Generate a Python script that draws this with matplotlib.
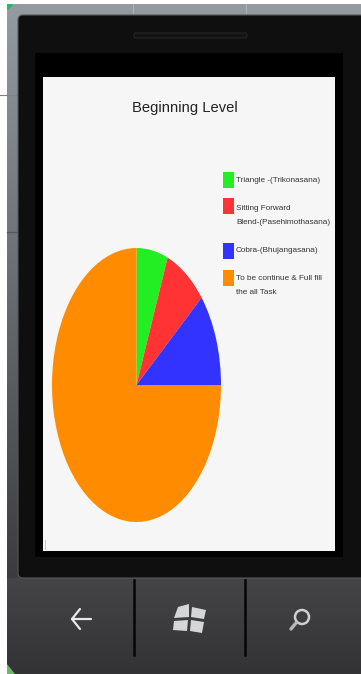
"""Yoga progress pie chart shown on a phone screen."""

import numpy as np
import matplotlib
matplotlib.use("Agg")
import matplotlib.pyplot as plt
from matplotlib.colors import to_rgb
from matplotlib.patches import FancyBboxPatch, Polygon, Circle, Rectangle

WIDTH = 361
HEIGHT = 674

TITLE = "Beginning Level"
LABELS = [
    "Triangle -(Trikonasana)",
    "Sitting Forward\nBlend-(Pasehimothasana)",
    "Cobra-(Bhujangasana)",
    "To be continue & Full fill\nthe all Task",
]
VALUES = [6, 8, 11, 75]
COLORS = ["#22ee22", "#ff3333", "#3333ff", "#ff8c00"]
BOX_Y = [179.5, 206, 250.5, 278]
TEXT_Y = [180, 215.5, 251, 285.5]

plt.rcParams["font.family"] = ["Liberation Sans", "DejaVu Sans"]

fig = plt.figure(figsize=(WIDTH / 100, HEIGHT / 100), dpi=100, facecolor="white")

# full-figure axes working in pixels, y pointing down
bg = fig.add_axes([0, 0, 1, 1])
bg.set_xlim(0, WIDTH)
bg.set_ylim(HEIGHT, 0)
bg.axis("off")


def vertical_gradient(ax, x0, x1, y0, y1, top, bottom, clip=None, z=1):
    grad = np.linspace(0, 1, 256).reshape(-1, 1, 1)
    rgb = (1 - grad) * np.array(to_rgb(top)) + grad * np.array(to_rgb(bottom))
    im = ax.imshow(rgb, extent=(x0, x1, y1, y0), aspect="auto", zorder=z)
    if clip is not None:
        im.set_clip_path(clip)
    return im


# phone body: grey at the top fading to dark, button bar below
body = FancyBboxPatch((7, 4), 380, 680, boxstyle="round,pad=0,rounding_size=9",
                      facecolor="none", edgecolor="none", zorder=1)
bg.add_patch(body)
vertical_gradient(bg, 7, 361, 4, 578, "#959ba1", "#3c3c3e", clip=body)
vertical_gradient(bg, 7, 361, 578, 674, "#454547", "#333335", clip=body)
bg.set_xlim(0, WIDTH)
bg.set_ylim(HEIGHT, 0)

# window edges behind the phone
bg.plot([0, 18], [95, 95], color="#7c8288", lw=0.8, zorder=1.5)
bg.plot([7, 18], [232, 232], color="#55585c", lw=0.9, zorder=1.5)
bg.plot([133, 133], [4, 15], color="#b4b8bc", lw=0.6, zorder=1.5)
bg.plot([246, 246], [4, 15], color="#b4b8bc", lw=0.6, zorder=1.5)
bg.add_patch(Polygon([[7, 4], [14, 4], [7, 11]], facecolor="#2fb56a", edgecolor="none", zorder=2))
bg.add_patch(Polygon([[7, 664], [7, 674], [15, 674]], facecolor="#6cb56c", edgecolor="none", zorder=2))

# bezel and screen
bg.add_patch(FancyBboxPatch((18, 15), 360, 563, boxstyle="round,pad=0,rounding_size=5",
                            facecolor="#0f0f0f", edgecolor="#55585a", lw=0.8, zorder=3))
bg.add_patch(Rectangle((35, 53), 308, 504, facecolor="#000000", edgecolor="none", zorder=3.1))
bg.add_patch(FancyBboxPatch((134, 33), 113, 5, boxstyle="round,pad=0,rounding_size=2",
                            facecolor="#131313", edgecolor="#262626", lw=0.8, zorder=3.2))
bg.add_patch(Rectangle((43, 77), 292, 474, facecolor="#f6f6f6", edgecolor="none", zorder=4))
bg.plot([44.5, 44.5], [540, 549], color="#c4c4c4", lw=0.7, zorder=5)

# hardware buttons
for x in (134, 245):
    bg.plot([x, x], [580, 655], color="#050505", lw=1.8, zorder=3)
bg.plot([72, 91], [619, 619], color="#e8e8e8", lw=1.6, zorder=3, solid_capstyle="round")
bg.plot([80, 72, 80], [609, 619, 629], color="#e8e8e8", lw=1.6, zorder=3, solid_capstyle="round")
for pts in ([[178, 607], [189, 604], [189, 617], [174, 618]],
            [[192, 607], [206, 610], [204, 619], [191, 617]],
            [[174, 621], [188, 620], [187, 631], [173, 630]],
            [[191, 620], [204, 622], [202, 633], [190, 631]]):
    bg.add_patch(Polygon(pts, facecolor="#d4d6d8", edgecolor="none", zorder=3))
bg.add_patch(Circle((302, 617), 7, facecolor="none", edgecolor="#cfcfcf", lw=1.8, zorder=3))
bg.plot([296, 291], [623, 629], color="#b8b8b8", lw=2.4, zorder=3, solid_capstyle="round")

# title and legend
bg.text(185, 108, TITLE, ha="center", va="center", fontsize=10.6, color="#222222", zorder=5)
for label, color, box_y, text_y in zip(LABELS, COLORS, BOX_Y, TEXT_Y):
    bg.add_patch(Rectangle((223, box_y - 8), 10.5, 16, facecolor=color, edgecolor="none", zorder=5))
    bg.text(236, text_y, label, ha="left", va="center", fontsize=5.9, color="#333333",
            linespacing=2.24, zorder=5)

# pie, stretched into an ellipse by the axes box
px0, px1, py0, py1 = 52, 221, 248, 522
pie_ax = fig.add_axes([px0 / WIDTH, 1 - py1 / HEIGHT, (px1 - px0) / WIDTH, (py1 - py0) / HEIGHT])
pie_ax.pie(VALUES, colors=COLORS, startangle=90, counterclock=False, radius=1)
pie_ax.set_aspect("auto")
pie_ax.set_xlim(-1, 1)
pie_ax.set_ylim(-1, 1)
pie_ax.set_zorder(6)

fig.savefig("out.png", dpi=100)
plt.close(fig)
